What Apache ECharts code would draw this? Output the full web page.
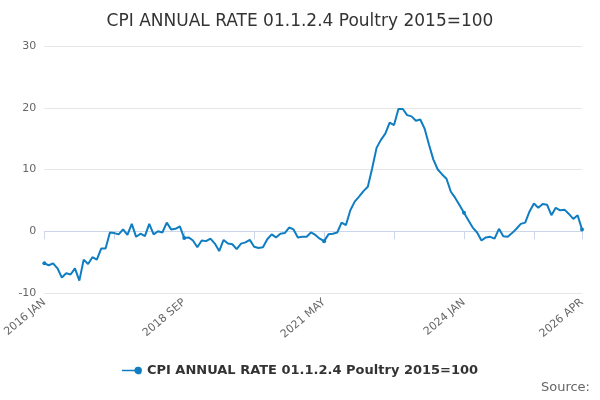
<!DOCTYPE html>
<html lang="en">
<head>
  <meta charset="UTF-8">
  <title>CPI Poultry</title>
  <style>
    html, body { margin: 0; }
    #main { height: 400px; width: 600px; }
  </style>
</head>
<body>
<div id="main"></div>
<script src="https://cdn.jsdelivr.net/npm/echarts@6/dist/echarts.min.js"></script>
<script>
  const seriesName = 'CPI ANNUAL RATE 01.1.2.4 Poultry 2015=100';
  const months = ['JAN', 'FEB', 'MAR', 'APR', 'MAY', 'JUN', 'JUL', 'AUG', 'SEP', 'OCT', 'NOV', 'DEC'];
  const values = [
    -5.2, -5.5, -5.2, -6.0, -7.5, -6.8, -7.0, -6.0, -8.0, -4.6,
    -5.3, -4.2, -4.6, -2.8, -2.8, -0.2, -0.3, -0.5, 0.3, -0.6,
    1.2, -0.9, -0.4, -0.8, 1.2, -0.5, 0, -0.2, 1.4, 0.3,
    0.4, 0.8, -1.1, -1.0, -1.5, -2.6, -1.5, -1.6, -1.2, -2.0,
    -3.2, -1.4, -2.0, -2.1, -2.9, -2.0, -1.8, -1.4, -2.5, -2.7,
    -2.6, -1.3, -0.5, -1.0, -0.4, -0.3, 0.6, 0.3, -1.0, -0.9,
    -0.9, -0.2, -0.6, -1.2, -1.6, -0.5, -0.4, -0.2, 1.4, 1.0,
    3.4, 4.8, 5.6, 6.5, 7.2, 10.2, 13.5, 14.8, 15.8, 17.6,
    17.2, 19.8, 19.8, 18.8, 18.6, 17.9, 18.1, 16.6, 14.0, 11.6,
    10.0, 9.2, 8.5, 6.4, 5.4, 4.2, 3.0, 1.8, 0.6, -0.2,
    -1.5, -1.0, -0.9, -1.2, 0.4, -0.8, -0.9, -0.3, 0.4, 1.2,
    1.4, 3.2, 4.5, 3.8, 4.4, 4.3, 2.6, 3.8, 3.4, 3.5,
    2.8, 2.0, 2.6, 0.3
  ];
  const categories = values.map((v, i) => (2016 + Math.floor(i / 12)) + ' ' + months[i % 12]);

  const chart = echarts.init(document.getElementById('main'));
  chart.setOption({
    animation: false,
    textStyle: { fontFamily: 'DejaVu Sans' },
    title: {
      text: seriesName, left: 'center', top: 8,
      textStyle: { fontSize: 17, fontWeight: 'normal', color: '#333' }
    },
    grid: { left: 44, right: 18, top: 46, bottom: 107 },
    legend: {
      bottom: 18, left: 'center',
      textStyle: { fontSize: 13, fontWeight: 'bold', color: '#333' },
      data: [{ name: seriesName, icon: 'path://M0,4h10a3,3 0 1 1 0,1h-10z' }],
      itemWidth: 20, itemHeight: 8
    },
    graphic: [{
      type: 'text', right: 10, bottom: 6,
      style: { text: 'Source:', fontSize: 13, fill: '#666', fontFamily: 'DejaVu Sans' }
    }],
    xAxis: {
      type: 'category', data: categories, boundaryGap: false,
      axisLine: { lineStyle: { color: '#ccd6eb' } },
      axisTick: { interval: 15, length: 8, lineStyle: { color: '#ccd6eb' } },
      axisLabel: { interval: 31, rotate: 40, color: '#666', fontSize: 11, showMaxLabel: true }
    },
    yAxis: {
      type: 'value', min: -10, max: 30, interval: 10,
      axisLabel: { color: '#666', fontSize: 11 },
      splitLine: { lineStyle: { color: '#e6e6e6' } }
    },
    series: [{
      name: seriesName, type: 'line', data: values,
      color: '#0f7dc2', symbol: 'circle', symbolSize: 4,
      lineStyle: { width: 2 }
    }]
  });
</script>
</body>
</html>
